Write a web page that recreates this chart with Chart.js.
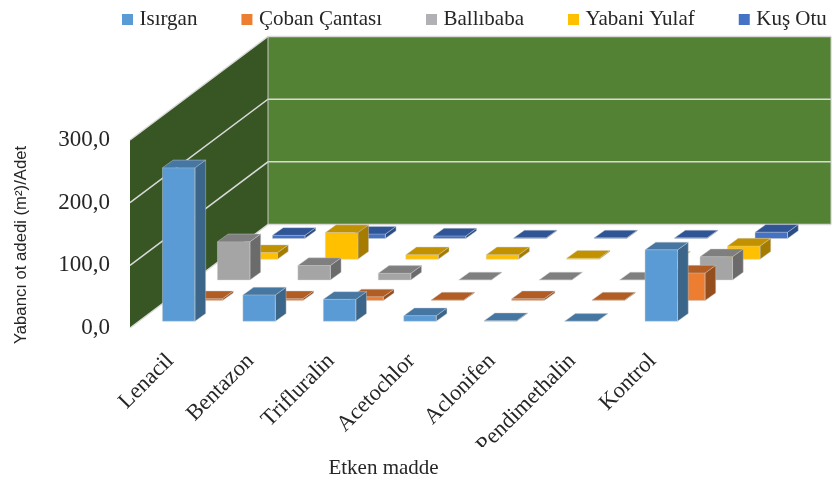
<!DOCTYPE html>
<html>
<head>
<meta charset="utf-8">
<style>html,body{margin:0;padding:0;background:#fff}canvas{display:block}</style>
<script src="https://cdn.jsdelivr.net/npm/chart.js@4"></script>
</head>
<body>
<canvas id="c" width="832" height="483"></canvas>
<script>
const categories = ["Lenacil","Bentazon","Trifluralin","Acetochlor","Aclonifen","Pendimethalin","Kontrol"];
const seriesNames = ["Isırgan","Çoban Çantası","Ballıbaba","Yabani Yulaf","Kuş Otu"];
const isirgan   = [245, 42, 35, 9, 1, 0, 114];
const coban     = [3, 3, 6, 1, 3, 1, 44];
const ballibaba = [61, 23, 10.5, 0, 0, 0, 37];
const yulaf     = [10.5, 42.5, 7, 7, 1.5, 0, 21];
const kusOtu    = [5, 7, 4, 1, 1, 1, 10];
const yTicks = [0, 100, 200, 300];

const serif = "'Liberation Serif','Times New Roman',serif";
const frontColors = ["#5b9bd5","#ed7d31","#a5a5a5","#ffc000","#4472c4"];
const topColors   = ["#4677a3","#b15d24","#7f7f7f","#c29100","#2f5597"];
const sideColors  = ["#3b6689","#954f1f","#6b6b6b","#a67c00","#2a4d85"];
const legendColors = ["#5b9bd5","#ed7d31","#b0b0b5","#ffc000","#4472c4"];

// 3D projection constants
const DEPTH_X = 138, DEPTH_Y = -103.5;
const SLOT_X = 27.5, SLOT_Y = -20.7;
const START_X = 8.5, START_Y = -6.7;
const FACE_X = 10.7, FACE_Y = -7.7;
const EDGE = "rgba(205,205,205,0.55)";
const LEGEND_GAP = 48;

const scene3d = {
  id: "scene3d",
  beforeDraw(chart) {
    const lg = chart.legend;
    lg.left = 126 - LEGEND_GAP; lg.right = 1000; lg.top = 9 - LEGEND_GAP;
    const sx = chart.scales.x, sy = chart.scales.y;
    if (!sy._wrapped) {
      sy._wrapped = true;
      const ty = sy.drawTitle;
      sy.drawTitle = function () { const c = this.ctx; c.save(); c.translate(0, 11); ty.apply(this, arguments); c.restore(); };
      const tx = sx.drawTitle;
      sx.drawTitle = function () { const c = this.ctx; c.save(); c.translate(-28, 0); tx.apply(this, arguments); c.restore(); };
      const lx = sx.drawLabels;
      sx.drawLabels = function () {
        const c = this.ctx; c.save(); c.beginPath(); c.rect(0, 0, 832, 447); c.clip();
        lx.apply(this, arguments); c.restore();
      };
    }
  },
  beforeDatasetsDraw(chart) {
    const { ctx, scales: { x, y } } = chart;
    const L = x.left, R = x.right, y0 = y.getPixelForValue(0), yt = y.getPixelForValue(300);
    ctx.save();
    ctx.fillStyle = "#548235";
    ctx.fillRect(L + DEPTH_X, yt + DEPTH_Y, R - L, y0 - yt);
    ctx.fillStyle = "#375623";
    ctx.beginPath();
    ctx.moveTo(L, yt); ctx.lineTo(L + DEPTH_X, yt + DEPTH_Y);
    ctx.lineTo(L + DEPTH_X, y0 + DEPTH_Y); ctx.lineTo(L, y0);
    ctx.closePath(); ctx.fill();
    ctx.strokeStyle = "#d9d9d9"; ctx.lineWidth = 1.5;
    for (const t of y.ticks) {
      const p = y.getPixelForValue(t.value);
      ctx.beginPath();
      ctx.moveTo(L, p); ctx.lineTo(L + DEPTH_X, p + DEPTH_Y); ctx.lineTo(R + DEPTH_X, p + DEPTH_Y);
      ctx.stroke();
    }
    ctx.beginPath();
    ctx.moveTo(R + DEPTH_X, yt + DEPTH_Y); ctx.lineTo(R + DEPTH_X, y0 + DEPTH_Y);
    ctx.moveTo(L + DEPTH_X, yt + DEPTH_Y); ctx.lineTo(L + DEPTH_X, y0 + DEPTH_Y);
    ctx.lineWidth = 1; ctx.strokeStyle = "#c8c8c8"; ctx.stroke();
    ctx.restore();
  },
  beforeDatasetDraw(chart, args) {
    const c = chart.ctx, i = args.index;
    c.save();
    c.translate(START_X + SLOT_X * i, START_Y + SLOT_Y * i);
  },
  afterDatasetDraw(chart, args) {
    const c = chart.ctx, i = args.index;
    const meta = chart.getDatasetMeta(i);
    c.lineWidth = 0.8;
    c.strokeStyle = EDGE;
    for (const b of meta.data) {
      const { x, y, base, width } = b.getProps(["x", "y", "base", "width"], true);
      const l = x - width / 2, r = x + width / 2;
      c.fillStyle = sideColors[i];
      c.beginPath();
      c.moveTo(r, y); c.lineTo(r + FACE_X, y + FACE_Y);
      c.lineTo(r + FACE_X, base + FACE_Y); c.lineTo(r, base);
      c.closePath(); c.fill(); c.stroke();
      c.fillStyle = topColors[i];
      c.beginPath();
      c.moveTo(l, y); c.lineTo(l + FACE_X, y + FACE_Y);
      c.lineTo(r + FACE_X, y + FACE_Y); c.lineTo(r, y);
      c.closePath(); c.fill(); c.stroke();
      c.beginPath();
      c.moveTo(l, y); c.lineTo(l, base); c.lineTo(r, base); c.lineTo(r, y);
      c.stroke();
    }
    c.restore();
  }
};

const values = [isirgan, coban, ballibaba, yulaf, kusOtu];
const canvas = document.getElementById("c");
canvas.getContext("2d").fontKerning = "none";

new Chart(canvas, {
  type: "bar",
  plugins: [scene3d],
  data: {
    labels: categories,
    datasets: seriesNames.map((n, i) => ({
      label: n,
      data: values[i],
      backgroundColor: frontColors[i],
      borderWidth: 0,
      clip: false,
      grouped: false,
      barPercentage: 0.404,
      categoryPercentage: 1
    }))
  },
  options: {
    responsive: false,
    animation: false,
    layout: { padding: { top: 110, left: 0, right: 0, bottom: 0 } },
    plugins: {
      tooltip: { enabled: false },
      legend: {
        display: true,
        position: "top",
        align: "start",
        maxHeight: 30,
        labels: {
          boxWidth: 3,
          boxHeight: 3,
          padding: LEGEND_GAP,
          color: "#262626",
          font: { family: serif, size: 21 },
          generateLabels: () => seriesNames.map((n, i) => ({
            text: n, fillStyle: legendColors[i], strokeStyle: legendColors[i],
            lineWidth: 8, lineJoin: "miter", datasetIndex: i, hidden: false, fontColor: "#262626"
          }))
        }
      }
    },
    scales: {
      x: {
        grid: { display: false },
        border: { display: false },
        ticks: {
          autoSkip: false, minRotation: 45, maxRotation: 45, padding: 12,
          color: "#262626", font: { family: serif, size: 22.5 }
        },
        title: {
          display: true, text: "Etken madde", color: "#262626",
          font: { family: serif, size: 21 }, padding: { top: 2, bottom: 2 }
        },
        afterFit(s) { s.height = 155; }
      },
      y: {
        min: 0, max: 300,
        grid: { display: false },
        border: { display: false },
        afterBuildTicks(s) { s.ticks = yTicks.map(v => ({ value: v })); },
        ticks: {
          padding: 12, color: "#262626", font: { family: serif, size: 23 },
          callback: v => v.toFixed(1).replace(".", ",")
        },
        title: {
          display: true, text: "Yabancı ot adedi (m²)/Adet", color: "#262626",
          font: { family: "'Liberation Sans',Arial,sans-serif", size: 16.7 }, padding: { top: 11, bottom: 0 }
        },
        afterFit(s) { s.width = 130; }
      },
      y2: {
        type: "linear", position: "right", display: true,
        grid: { display: false }, border: { display: false },
        ticks: { display: false },
        afterFit(s) { s.width = 139; }
      }
    }
  }
});
</script>
</body>
</html>
